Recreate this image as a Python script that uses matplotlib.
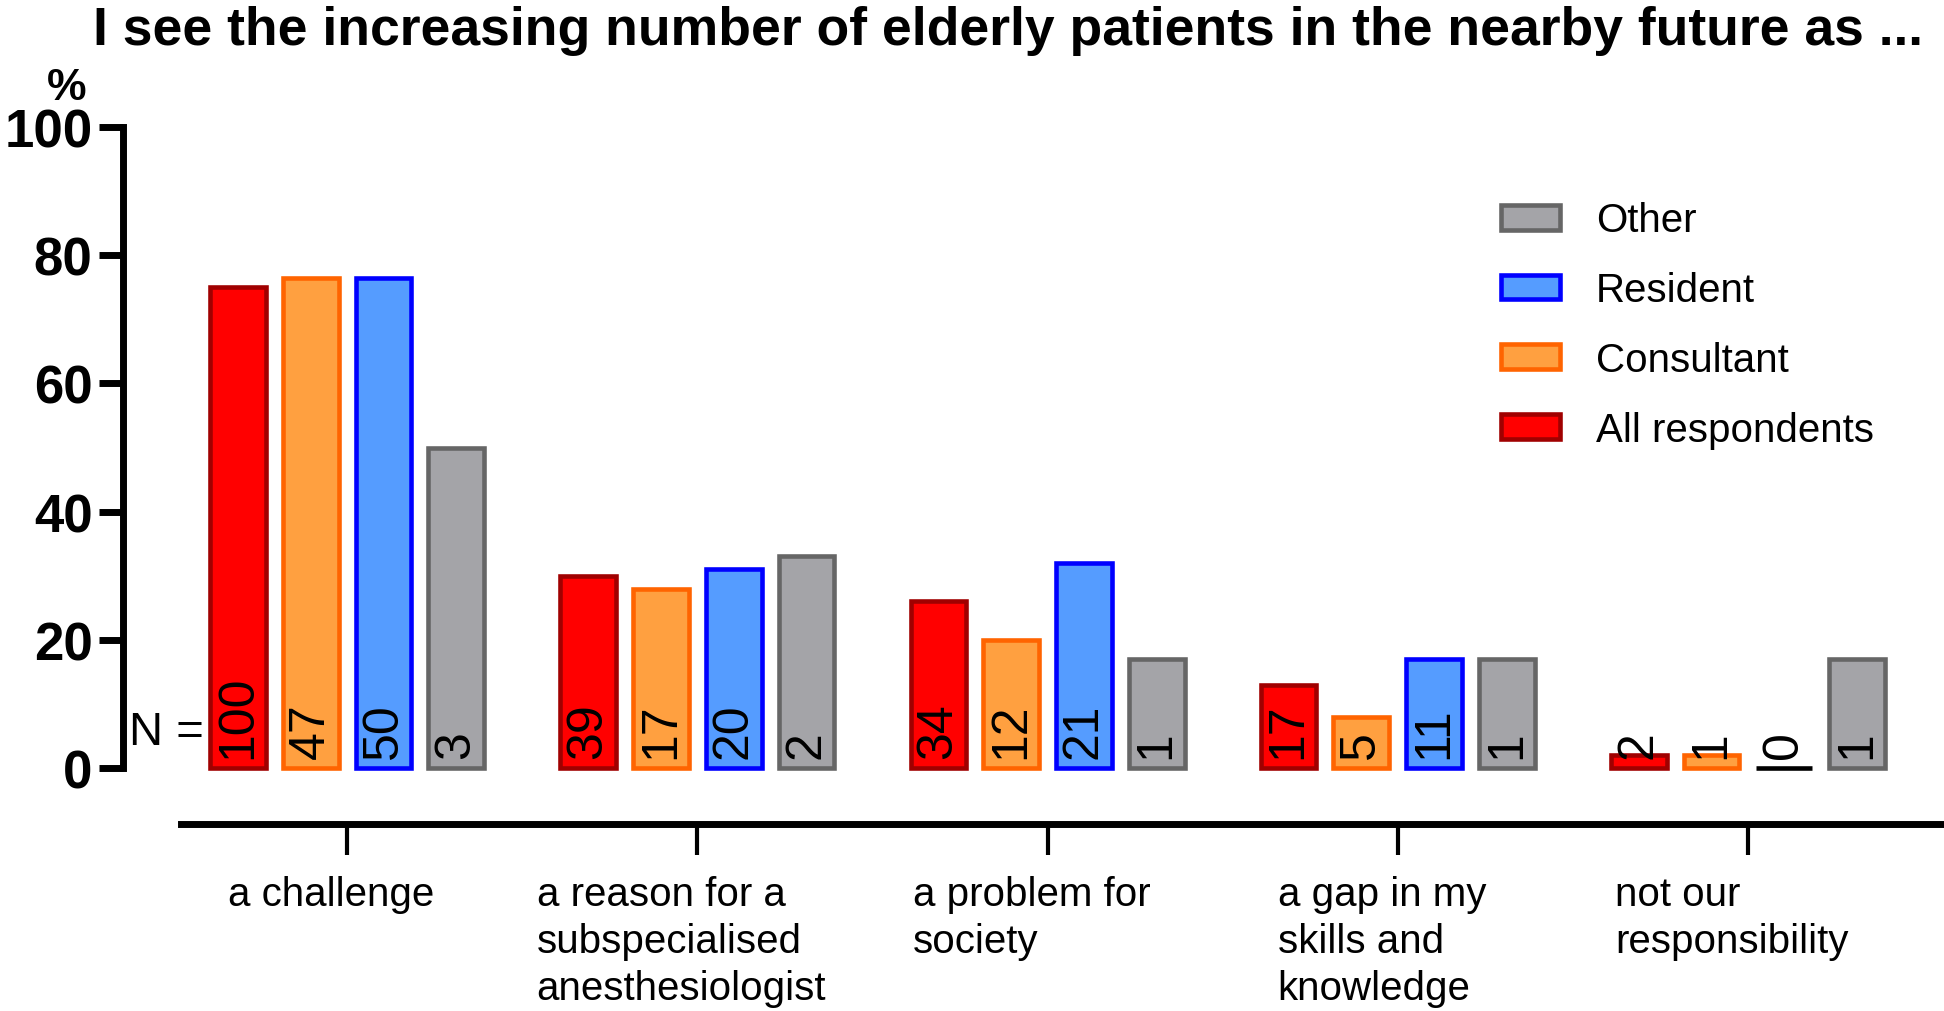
import matplotlib.pyplot as plt
import matplotlib.transforms as mtransforms
import numpy as np

plt.rcParams['font.family'] = ['Liberation Sans', 'DejaVu Sans']

categories = ['a challenge', 'a reason for a\nsubspecialised\nanesthesiologist',
              'a problem for\nsociety', 'a gap in my\nskills and\nknowledge',
              'not our\nresponsibility']
groups = ['All respondents', 'Consultant', 'Resident', 'Other']

# percent per category, one list per group
pct_all = [75, 30, 26, 13, 2]
pct_cons = [76.5, 28, 20, 8, 2]
pct_res = [76.5, 31, 32, 17, 0]
pct_oth = [50, 33, 17, 17, 17]

# N written inside the bars
n_all = [100, 39, 34, 17, 2]
n_cons = [47, 17, 12, 5, 1]
n_res = [50, 20, 21, 11, 0]
n_oth = [3, 2, 1, 1, 1]

faces = ['#ff0000', '#ffa040', '#559cff', '#a4a4a8']
edges = ['#a00000', '#ff6400', '#0000ff', '#666666']

fig = plt.figure(figsize=(19.44, 10.12), dpi=100)
ax = fig.add_axes([0.0633, 0.2401, 0.9367, 0.6334])

x = np.arange(len(categories))
width = 0.159
step = 0.2078
bars = []
for i, (pct, n) in enumerate(zip([pct_all, pct_cons, pct_res, pct_oth],
                                 [n_all, n_cons, n_res, n_oth])):
    xs = x + (i - 1.5) * step
    ec = ['black' if v == 0 else edges[i] for v in pct]
    b = ax.bar(xs, pct, width=width, color=faces[i], edgecolor=ec,
               linewidth=3.3, label=groups[i], clip_on=False, zorder=2)
    bars.append(b)
    for xi, ni in zip(xs, n):
        ax.text(xi, 1.6, str(ni), rotation=90, ha='center', va='bottom',
                fontsize=36, zorder=3)

ax.text(-0.41, 5.6, 'N =', ha='right', va='center', fontsize=34)

ax.set_xlim(-0.64, 4.56)
ax.set_ylim(0, 100)
ax.set_yticks([0, 20, 40, 60, 80, 100])
ax.set_xticks(x)
ax.set_xticklabels(categories)

ax.spines['top'].set_visible(False)
ax.spines['right'].set_visible(False)
ax.spines['left'].set_linewidth(5)
ax.spines['left'].set_bounds(0, 100)
ax.spines['bottom'].set_linewidth(5)
ax.spines['bottom'].set_position(('outward', 40))
ax.spines['bottom'].set_bounds(-0.475, 4.56)
ax.tick_params(axis='y', length=17, width=5, pad=5, labelsize=38)
ax.tick_params(axis='x', length=22, width=3, pad=15, labelsize=29)
for lab in ax.get_yticklabels():
    lab.set_fontweight('bold')
shift = mtransforms.ScaledTranslation(-0.16, 0, fig.dpi_scale_trans)
for lab in ax.get_xticklabels():
    lab.set_multialignment('left')
    lab.set_linespacing(1.3)
    lab.set_transform(lab.get_transform() + shift)

ax.legend(handles=bars[::-1], loc='upper left', bbox_to_anchor=(0.7721, 0.80),
          bbox_transform=fig.transFigure, frameon=False, fontsize=29,
          handlelength=1.46, handleheight=0.57, handletextpad=0.9,
          labelspacing=0.79, borderpad=0, borderaxespad=0)

fig.text(0.0345, 0.913, '%', fontsize=32, fontweight='bold', ha='center', va='center')
fig.text(0.5185, 0.994, 'I see the increasing number of elderly patients in the nearby future as ...',
         fontsize=38.5, fontweight='bold', ha='center', va='top')

plt.savefig('out.png')
plt.close()
